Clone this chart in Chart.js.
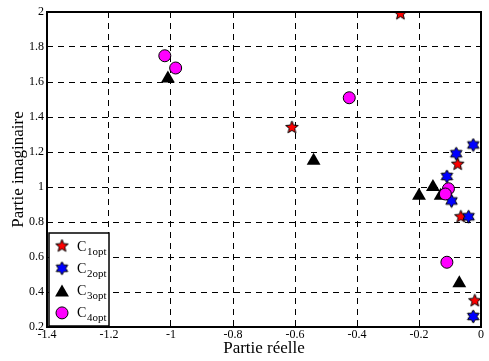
<!DOCTYPE html>
<html>
<head>
<meta charset="utf-8">
<script src="https://cdn.jsdelivr.net/npm/chart.js@4/dist/chart.umd.min.js"></script>
<style>
  body { margin: 0; background: #fff; }
  #wrap { width: 489px; height: 361px; }
</style>
</head>
<body>
<div id="wrap"><canvas id="graf" width="489" height="361"></canvas></div>
<script>
// valeurs
const c1X = [-0.26, -0.61, -0.075, -0.065, -0.02];
const c1Y = [1.99, 1.34, 1.13, 0.83, 0.35];
const c2X = [-0.025, -0.08, -0.11, -0.095, -0.04, -0.025];
const c2Y = [1.24, 1.19, 1.06, 0.92, 0.83, 0.26];
const c3X = [-1.01, -0.54, -0.2, -0.155, -0.13, -0.07];
const c3Y = [1.62, 1.15, 0.95, 1.0, 0.95, 0.45];
const c4X = [-1.02, -0.985, -0.425, -0.105, -0.115, -0.11];
const c4Y = [1.75, 1.68, 1.51, 0.99, 0.96, 0.57];
const legendLabels = ['1opt', '2opt', '3opt', '4opt'];

const serif = "'Liberation Serif', 'DejaVu Serif', serif";

function points(xs, ys) {
    return xs.map((x, i) => ({x: x, y: ys[i]}));
}

// trace une etoile (pentagramme / hexagramme)
function starPath(g, cx, cy, n, R, r) {
    g.beginPath();
    for (let i = 0; i < 2 * n; i++) {
        const a = -Math.PI / 2 + i * Math.PI / n;
        const rr = i % 2 === 0 ? R : r;
        const px = cx + Math.cos(a) * rr, py = cy + Math.sin(a) * rr;
        if (i === 0) g.moveTo(px, py); else g.lineTo(px, py);
    }
    g.closePath();
}

function makeStar(n, fill) {
    const c = document.createElement('canvas');
    c.width = 15; c.height = 15;
    const g = c.getContext('2d');
    starPath(g, 7.5, 7.5, n, 6.6, n === 5 ? 2.9 : 3.8);
    g.fillStyle = fill;
    g.fill();
    g.lineWidth = 1;
    g.strokeStyle = '#000';
    g.stroke();
    return c;
}

const pentagram = makeStar(5, '#ff0000');
const hexagram = makeStar(6, '#0000ff');

function drawTriangle(ctx, x, y, r) {
    ctx.beginPath();
    for (let i = 0; i < 3; i++) {
        const a = i * 2 * Math.PI / 3;
        const px = x + Math.sin(a) * r, py = y - Math.cos(a) * r;
        if (i === 0) ctx.moveTo(px, py); else ctx.lineTo(px, py);
    }
    ctx.closePath();
    ctx.fillStyle = '#000';
    ctx.fill();
}

const boxLegend = {
    id: 'boxLegend',
    afterDatasetsDraw(chart) {
        const ctx = chart.ctx;
        const a = chart.chartArea;
        ctx.save();
        // cadre des axes
        ctx.lineWidth = 2;
        ctx.strokeStyle = '#000';
        ctx.strokeRect(a.left, a.top, a.right - a.left, a.bottom - a.top);

        // legende
        const lx = a.left + 2, ly = a.bottom - 94, lw = 60, lh = 93;
        ctx.fillStyle = '#fff';
        ctx.fillRect(lx, ly, lw, lh);
        ctx.lineWidth = 1.5;
        ctx.strokeRect(lx, ly, lw, lh);

        const mx = a.left + 15;
        legendLabels.forEach((lab, i) => {
            const my = ly + 13 + i * 22.3;
            if (i === 0) ctx.drawImage(pentagram, mx - 7.5, my - 7.5);
            if (i === 1) ctx.drawImage(hexagram, mx - 7.5, my - 7.5);
            if (i === 2) drawTriangle(ctx, mx, my + 2, 8);
            if (i === 3) {
                ctx.beginPath();
                ctx.arc(mx, my, 6, 0, Math.PI * 2);
                ctx.fillStyle = '#ff00ff';
                ctx.fill();
                ctx.lineWidth = 1;
                ctx.strokeStyle = '#000';
                ctx.stroke();
            }
            ctx.fillStyle = '#000';
            ctx.textAlign = 'left';
            ctx.textBaseline = 'alphabetic';
            ctx.font = '14px ' + serif;
            ctx.fillText('C', mx + 15, my + 4.5);
            ctx.font = '11px ' + serif;
            ctx.fillText(lab, mx + 25, my + 8.5);
        });
        ctx.restore();
    }
};

const grille = {
    color: '#000',
    lineWidth: 1,
    drawTicks: false
};

const etiquette = (v) => String(Number(v.toFixed(1)));

new Chart(document.getElementById('graf'), {
    type: 'scatter',
    data: {
        datasets: [
            {label: 'C1opt', data: points(c1X, c1Y), pointStyle: pentagram, order: 4},
            {label: 'C2opt', data: points(c2X, c2Y), pointStyle: hexagram, order: 3},
            {label: 'C3opt', data: points(c3X, c3Y), pointStyle: 'triangle', pointRadius: 8,
                backgroundColor: '#000', borderColor: '#000', borderWidth: 0, order: 2},
            {label: 'C4opt', data: points(c4X, c4Y), pointStyle: 'circle', pointRadius: 6,
                backgroundColor: '#ff00ff', borderColor: '#000', borderWidth: 1, order: 1}
        ]
    },
    options: {
        responsive: false,
        devicePixelRatio: 1,
        animation: false,
        layout: {padding: {top: 12, right: 1, left: 0, bottom: 0}},
        plugins: {legend: {display: false}, tooltip: {enabled: false}},
        scales: {
            x: {
                type: 'linear',
                min: -1.4,
                max: 0,
                ticks: {stepSize: 0.2, color: '#000', font: {family: serif, size: 12}, padding: 1,
                    maxRotation: 0, callback: etiquette},
                grid: grille,
                border: {display: false, dash: [6, 5]},
                title: {display: true, text: 'Partie réelle', color: '#000',
                    font: {family: serif, size: 17}, padding: {top: 0, bottom: 2}},
                afterFit(scale) {
                    scale.height = 34;
                    scale.paddingRight = 0;
                    scale.paddingLeft = 0;
                }
            },
            y: {
                type: 'linear',
                min: 0.2,
                max: 2,
                ticks: {stepSize: 0.2, color: '#000', font: {family: serif, size: 12}, padding: 3,
                    callback: etiquette},
                grid: grille,
                border: {display: false, dash: [6, 5]},
                title: {display: true, text: 'Partie imaginaire', color: '#000',
                    font: {family: serif, size: 17}, padding: {top: 8, bottom: 0}},
                afterFit(scale) { scale.width = 47; }
            }
        }
    },
    plugins: [boxLegend]
});
</script>
</body>
</html>
